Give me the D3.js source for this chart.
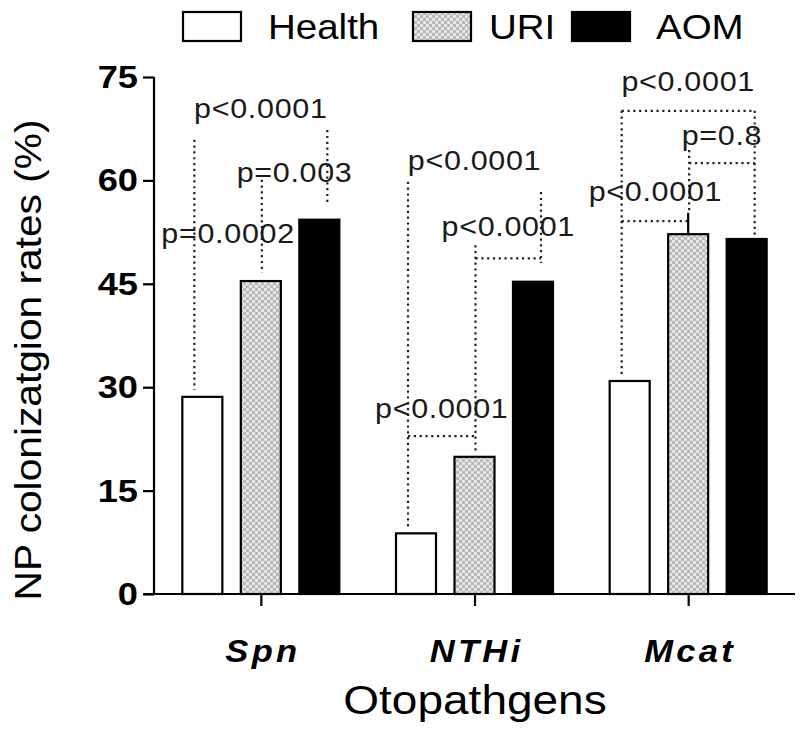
<!DOCTYPE html>
<html>
<head>
<meta charset="utf-8">
<script src="https://cdn.jsdelivr.net/npm/d3@7"></script>
<style>
  html, body { margin: 0; padding: 0; background: #fff; }
  svg { display: block; }
  text { font-family: "Liberation Sans", Arial, sans-serif; }
</style>
</head>
<body>
<svg id="chart" width="800" height="738"></svg>
<script>
// ---------------- data ----------------
const categories = ["Spn", "NTHi", "Mcat"];
const seriesNames = ["Health", "URI", "AOM"];
const healthValues = [28.6, 8.8, 30.9];
const uriValues = [45.4, 19.9, 52.2];
const aomValues = [54.3, 45.3, 51.5];
const yTickValues = [0, 15, 30, 45, 60, 75];
const yTitle = "NP colonizatgion rates (%)";
const xTitle = "Otopathgens";

// p-value labels: [category, from series, to series, text, baseline value]
const pLabels = [
  ["Spn", "Health", "AOM", "p<0.0001", 69.0],
  ["Spn", "URI", "AOM", "p=0.003", 59.8],
  ["Spn", "Health", "URI", "p=0.0002", 50.9],
  ["NTHi", "Health", "AOM", "p<0.0001", 61.5],
  ["NTHi", "URI", "AOM", "p<0.0001", 51.9],
  ["NTHi", "Health", "URI", "p<0.0001", 25.5],
  ["Mcat", "Health", "AOM", "p<0.0001", 73.0],
  ["Mcat", "URI", "AOM", "p=0.8", 65.1],
  ["Mcat", "Health", "URI", "p<0.0001", 57.0]
];
// dotted bracket legs: [category, series, top value, bottom value]
const bracketLegs = [
  ["Spn", "Health", 65.9, 29.6],
  ["Spn", "URI", 60.1, 46.6],
  ["Spn", "AOM", 67.3, 56.7],
  ["NTHi", "Health", 59.8, 9.6],
  ["NTHi", "URI", 50.6, 20.6],
  ["NTHi", "AOM", 58.3, 48.0],
  ["Mcat", "Health", 70.1, 31.8],
  ["Mcat", "URI", 64.4, 55.3],
  ["Mcat", "AOM", 70.1, 51.6]
];
// dotted bracket bars: [category, from series, to series, value]
const bracketBars = [
  ["NTHi", "URI", "AOM", 48.7],
  ["NTHi", "Health", "URI", 22.9],
  ["Mcat", "Health", "AOM", 70.1],
  ["Mcat", "URI", "AOM", 62.5],
  ["Mcat", "Health", "URI", 54.1]
];
// solid upper whisker: [category, series, value]
const whiskers = [["Mcat", "URI", 55.3]];

// ---------------- layout ----------------
const svg = d3.select("#chart");
const plotLeft = 154, plotRight = 795, plotTop = 77, plotBottom = 594;
const STRETCH = 1.13;

const x0 = d3.scalePoint().domain(categories).range([plotLeft, plotRight]).padding(0.5);
const x1 = d3.scaleBand().domain(seriesNames).range([-78.5, 78.5]).paddingInner(0.316).paddingOuter(0);
const y = d3.scaleLinear().domain([0, 75]).range([plotBottom, plotTop]);

const legOffset = { Health: -8, URI: 1, AOM: 8 };
const barCenter = (c, s) => x0(c) + x1(s) + x1.bandwidth() / 2;
const legX = (c, s) => barCenter(c, s) + legOffset[s];

const valuesBySeries = { Health: healthValues, URI: uriValues, AOM: aomValues };
const barData = [];
categories.forEach((c, i) => seriesNames.forEach(s => barData.push({ c, s, v: valuesBySeries[s][i] })));

// pattern for URI
const defs = svg.append("defs");
const pat = defs.append("pattern").attr("id", "uriPat").attr("patternUnits", "userSpaceOnUse")
  .attr("width", 6).attr("height", 6);
pat.append("rect").attr("width", 6).attr("height", 6).attr("fill", "#b8b8b8");
pat.append("circle").attr("cx", 1.5).attr("cy", 1.5).attr("r", 1.7).attr("fill", "#e8e8e8");
pat.append("circle").attr("cx", 4.5).attr("cy", 4.5).attr("r", 1.7).attr("fill", "#e8e8e8");

const fills = { Health: "#ffffff", URI: "url(#uriPat)", AOM: "#000000" };

function stext(g, x, yy, txt, size, opts = {}) {
  const t = g.append("text")
    .attr("transform", `translate(${x},${yy}) ${opts.rotate ? "rotate(" + opts.rotate + ")" : ""} scale(${opts.sx || STRETCH},1)`)
    .attr("text-anchor", opts.anchor || "middle")
    .attr("font-size", size)
    .attr("fill", opts.fill || "#000")
    .text(txt);
  if (opts.weight) t.attr("font-weight", opts.weight);
  if (opts.style) t.attr("font-style", opts.style);
  if (opts.ls) t.attr("letter-spacing", opts.ls);
  return t;
}

// bars
svg.append("g").selectAll("rect").data(barData).join("rect")
  .attr("x", d => x0(d.c) + x1(d.s))
  .attr("y", d => y(d.v))
  .attr("width", x1.bandwidth())
  .attr("height", d => y(0) - y(d.v))
  .attr("fill", d => fills[d.s])
  .attr("stroke", "#000")
  .attr("stroke-width", 2.2);

// brackets
const dot = { stroke: "#222", width: 2.2, dash: "2.2,3.6" };
const br = svg.append("g");
br.selectAll("line.leg").data(bracketLegs).join("line").attr("class", "leg")
  .attr("x1", d => legX(d[0], d[1])).attr("x2", d => legX(d[0], d[1]))
  .attr("y1", d => y(d[2])).attr("y2", d => y(d[3]))
  .attr("stroke", dot.stroke).attr("stroke-width", dot.width).attr("stroke-dasharray", dot.dash);
br.selectAll("line.hbar").data(bracketBars).join("line").attr("class", "hbar")
  .attr("x1", d => legX(d[0], d[1])).attr("x2", d => legX(d[0], d[2]))
  .attr("y1", d => y(d[3])).attr("y2", d => y(d[3]))
  .attr("stroke", dot.stroke).attr("stroke-width", dot.width).attr("stroke-dasharray", dot.dash);
br.selectAll("line.wh").data(whiskers).join("line").attr("class", "wh")
  .attr("x1", d => barCenter(d[0], d[1])).attr("x2", d => barCenter(d[0], d[1]))
  .attr("y1", d => y(d[2])).attr("y2", d => y(valuesBySeries[d[1]][categories.indexOf(d[0])]))
  .attr("stroke", "#000").attr("stroke-width", 2.2);

const lab = svg.append("g");
pLabels.forEach(d => {
  const cx = (legX(d[0], d[1]) + legX(d[0], d[2])) / 2;
  stext(lab, cx, y(d[4]), d[3], 27, { fill: "#1a1a1a", ls: 0.6 });
});

// y axis
const yAxis = svg.append("g").attr("transform", `translate(${plotLeft},0)`)
  .call(d3.axisLeft(y).tickValues(yTickValues).tickSize(11).tickFormat(() => ""));
yAxis.select(".domain").attr("stroke", "#000").attr("stroke-width", 2.2).attr("d", `M0,${plotTop}V${plotBottom}`);
yAxis.selectAll(".tick line").attr("stroke", "#000").attr("stroke-width", 2.2);
const yl = svg.append("g");
yTickValues.forEach(v => stext(yl, 138, y(v) + 11, d3.format("d")(v), 31, { anchor: "end", weight: "bold", sx: 1.17 }));

// x axis
const xAxis = svg.append("g").attr("transform", `translate(0,${plotBottom})`)
  .call(d3.axisBottom(x0).tickSize(12).tickFormat(() => ""));
xAxis.select(".domain").attr("stroke", "#000").attr("stroke-width", 2.2).attr("d", `M${plotLeft - 11},0H${plotRight}`);
xAxis.selectAll(".tick line").attr("stroke", "#000").attr("stroke-width", 2.2);
const xl = svg.append("g");
categories.forEach(c => stext(xl, x0(c) + 2, 662, c, 32, { weight: "bold", style: "italic", ls: 3, sx: 1.08 }));

// titles
stext(svg, 475, 714, xTitle, 40, { sx: 1.15 });
stext(svg, 41, 360, yTitle, 37, { rotate: -90, sx: 1.1 });

// legend
const legBoxX = [183, 413, 572];
const legTextX = [268, 489, 656];
const lg = svg.append("g");
seriesNames.forEach((s, i) => {
  lg.append("rect").attr("x", legBoxX[i]).attr("y", 12).attr("width", 58).attr("height", 29)
    .attr("fill", fills[s]).attr("stroke", "#000").attr("stroke-width", 2.2);
  stext(lg, legTextX[i], 39, s, 35, { anchor: "start", sx: 1.1 });
});
</script>
</body>
</html>
